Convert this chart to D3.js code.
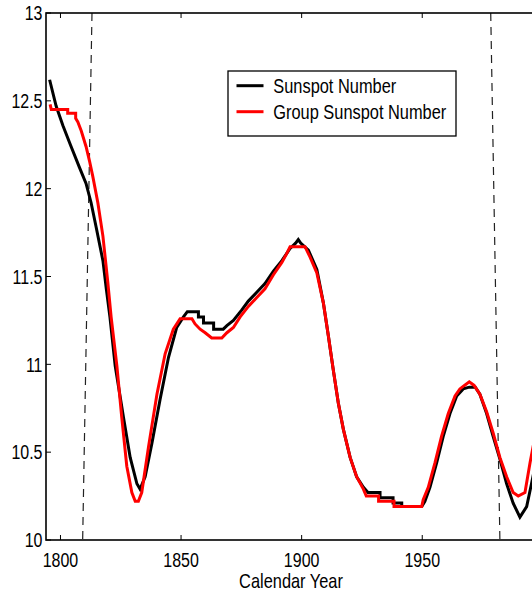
<!DOCTYPE html>
<html>
<head>
<meta charset="utf-8">
<script src="https://cdn.jsdelivr.net/npm/d3@7"></script>
<style>
  html, body { margin: 0; padding: 0; background: #fff; }
  svg { display: block; }
  text { font-family: "Liberation Sans", Arial, Helvetica, sans-serif; fill: #000; }
</style>
</head>
<body>
<svg id="chart" width="532" height="594"></svg>
<script>
// ---- data ----
const sunspotYears = [1795.5,1798.2,1801.0,1804.4,1807.9,1810.6,1812.7,1814.8,1817.6,1819.0,1820.5,1822.7,1826.1,1828.9,1831.7,1833.0,1835.1,1837.9,1841.3,1844.8,1848.2,1851.0,1852.6,1857.2,1857.2,1859.3,1859.3,1863.5,1863.5,1867.5,1869.0,1871.7,1875.2,1877.9,1881.4,1884.8,1888.3,1891.8,1895.2,1897.5,1898.6,1899.6,1902.8,1906.3,1909.0,1911.1,1913.1,1915.2,1917.3,1920.1,1922.8,1925.6,1927.5,1932.5,1932.5,1937.9,1937.9,1941.5,1941.5,1949.8,1951.1,1953.2,1956.0,1958.7,1961.5,1964.3,1967.0,1969.5,1972.0,1973.9,1976.7,1979.4,1982.2,1985.0,1987.7,1990.5,1993.3,1995.3,1997.5];
const sunspotValues = [12.62,12.47,12.36,12.24,12.12,12.03,11.92,11.78,11.59,11.43,11.27,10.99,10.70,10.47,10.32,10.29,10.36,10.55,10.80,11.04,11.21,11.27,11.30,11.30,11.27,11.27,11.235,11.235,11.20,11.20,11.22,11.25,11.31,11.36,11.41,11.46,11.53,11.59,11.66,11.69,11.71,11.69,11.65,11.54,11.35,11.16,10.97,10.78,10.63,10.47,10.36,10.30,10.27,10.27,10.24,10.24,10.21,10.21,10.19,10.19,10.22,10.30,10.44,10.59,10.72,10.82,10.86,10.87,10.87,10.83,10.72,10.59,10.46,10.32,10.21,10.13,10.19,10.32,10.47];

const groupYears = [1795.7,1796.2,1803.0,1803.0,1806.3,1806.3,1807.2,1808.6,1810.6,1812.0,1813.4,1815.5,1817.6,1819.6,1821.0,1823.4,1825.4,1827.5,1829.6,1831.0,1832.3,1833.7,1836.5,1840.0,1843.4,1846.8,1849.6,1854.5,1855.8,1857.9,1860.0,1862.7,1866.9,1869.0,1871.7,1874.5,1877.9,1881.4,1884.8,1888.3,1891.8,1893.8,1895.2,1901.4,1903.5,1906.3,1909.0,1911.1,1913.1,1915.2,1917.3,1920.1,1922.8,1925.6,1926.8,1931.9,1931.9,1938.3,1938.3,1949.8,1950.4,1952.5,1955.3,1958.0,1960.8,1963.6,1965.6,1967.5,1969.5,1971.5,1973.9,1976.7,1979.4,1982.2,1985.0,1987.7,1989.8,1992.6,1994.7,1997.5];
const groupValues = [12.48,12.45,12.45,12.43,12.43,12.40,12.38,12.33,12.24,12.16,12.07,11.92,11.73,11.47,11.27,10.99,10.70,10.42,10.27,10.22,10.22,10.27,10.53,10.83,11.06,11.20,11.26,11.26,11.23,11.20,11.18,11.15,11.15,11.18,11.21,11.27,11.33,11.38,11.43,11.51,11.58,11.63,11.67,11.67,11.61,11.52,11.35,11.16,10.97,10.78,10.63,10.47,10.36,10.29,10.25,10.25,10.22,10.22,10.19,10.19,10.23,10.30,10.44,10.59,10.72,10.82,10.86,10.88,10.90,10.88,10.83,10.73,10.61,10.47,10.36,10.27,10.25,10.27,10.44,10.64];

const seriesNames = ["Sunspot Number", "Group Sunspot Number"];
const seriesColors = ["#000000", "#ff0000"];

const xTicks = [1800, 1850, 1900, 1950];
const yTicks = [10, 10.5, 11, 11.5, 12, 12.5, 13];
const yTickLabels = ["10", "10.5", "11", "11.5", "12", "12.5", "13"];

// dashed reference lines: [yearTop, yearBottom]
const dashedTopYears = [1813.07, 1978.4];
const dashedBottomYears = [1809.2, 1982.2];

const xLabel = "Calendar Year";

// ---- layout ----
const svg = d3.select("#chart");
const L = 46, R = 538, T = 13, B = 540;
const x = d3.scaleLinear().domain([1794, 1998]).range([L, R]);
const y = d3.scaleLinear().domain([10, 13]).range([B, T]);
const SX = 0.82; // horizontal compression of the condensed font

svg.append("defs").append("clipPath").attr("id", "clip")
  .append("rect").attr("x", L).attr("y", T).attr("width", R - L).attr("height", B - T);

function ctext(g, px, py, str, size, anchor) {
  return g.append("text")
    .attr("transform", `translate(${px},${py}) scale(${SX},1)`)
    .attr("text-anchor", anchor)
    .style("font-size", size + "px")
    .text(str);
}

// dashed lines
const plot = svg.append("g").attr("clip-path", "url(#clip)");
dashedTopYears.forEach((yt, i) => {
  plot.append("line")
    .attr("x1", x(yt)).attr("y1", y(13))
    .attr("x2", x(dashedBottomYears[i])).attr("y2", y(10))
    .attr("stroke", "#222").attr("stroke-width", 1.2)
    .attr("stroke-dasharray", "8,6");
});

// curves
const line = d3.line().x(d => x(d[0])).y(d => y(d[1]));
const sunspot = sunspotYears.map((v, i) => [v, sunspotValues[i]]);
const group = groupYears.map((v, i) => [v, groupValues[i]]);
plot.append("path").datum(sunspot).attr("d", line)
  .attr("fill", "none").attr("stroke", seriesColors[0]).attr("stroke-width", 3).attr("stroke-linejoin", "miter");
plot.append("path").datum(group).attr("d", line)
  .attr("fill", "none").attr("stroke", seriesColors[1]).attr("stroke-width", 3).attr("stroke-linejoin", "miter");

// axes box
const ax = svg.append("g");
ax.append("rect").attr("x", L).attr("y", T).attr("width", R - L).attr("height", B - T)
  .attr("fill", "none").attr("stroke", "#000").attr("stroke-width", 1.6);

const tl = 5;
xTicks.forEach(t => {
  ax.append("line").attr("x1", x(t)).attr("x2", x(t)).attr("y1", B).attr("y2", B - tl).attr("stroke", "#000").attr("stroke-width", 1);
  ax.append("line").attr("x1", x(t)).attr("x2", x(t)).attr("y1", T).attr("y2", T + tl).attr("stroke", "#000").attr("stroke-width", 1);
  ctext(ax, x(t), 567, String(t), 19.5, "middle");
});
yTicks.forEach((t, i) => {
  ax.append("line").attr("x1", L).attr("x2", L + tl).attr("y1", y(t)).attr("y2", y(t)).attr("stroke", "#000").attr("stroke-width", 1);
  ax.append("line").attr("x1", R).attr("x2", R - tl).attr("y1", y(t)).attr("y2", y(t)).attr("stroke", "#000").attr("stroke-width", 1);
  ctext(ax, 42.5, y(t) + 7.3, yTickLabels[i], 19.5, "end");
});

ctext(ax, (L + 536) / 2, 588, xLabel, 20, "middle");

// legend
const lg = svg.append("g");
lg.append("rect").attr("x", 228).attr("y", 71).attr("width", 228).attr("height", 65)
  .attr("fill", "#fff").attr("stroke", "#000").attr("stroke-width", 1.3);
seriesNames.forEach((n, i) => {
  const ly = 85.7 + i * 26;
  lg.append("line").attr("x1", 236.5).attr("x2", 263.5).attr("y1", ly).attr("y2", ly)
    .attr("stroke", seriesColors[i]).attr("stroke-width", 3);
  ctext(lg, 273.3, ly + 7.5, n, 20, "start");
});
</script>
</body>
</html>
